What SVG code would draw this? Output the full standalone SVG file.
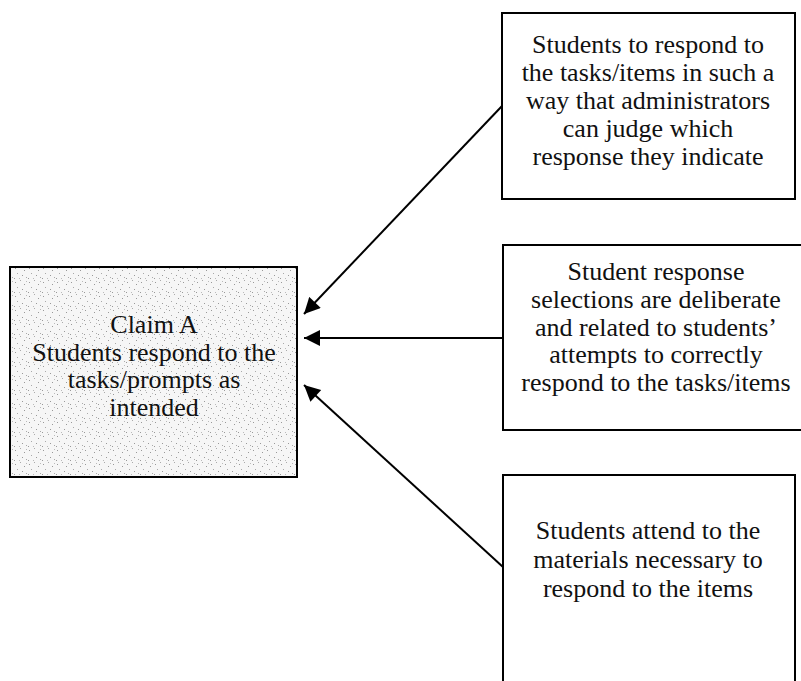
<svg xmlns="http://www.w3.org/2000/svg" width="801" height="681" viewBox="0 0 801 681">
<style>
.box{fill:#fff;stroke:#000;stroke-width:2}
.t{font-family:"Liberation Serif","Times New Roman",serif;font-size:26px;fill:#111;text-anchor:middle}
.c{stroke:#000;stroke-width:2;fill:none;marker-end:url(#ah)}
</style>
<defs>
<marker id="ah" viewBox="0 0 10 10" refX="10" refY="5" markerWidth="9" markerHeight="8" markerUnits="strokeWidth" orient="auto">
<path d="M0,0 L10,5 L0,10 Z" fill="#000"/>
</marker>
<pattern id="stip" width="14" height="14" patternUnits="userSpaceOnUse">
<rect width="14" height="14" fill="#f6f6f6"/>
<rect x="1" y="2" width="1" height="1" fill="#999"/>
<rect x="6" y="0" width="1" height="1" fill="#aaa"/>
<rect x="10" y="4" width="1" height="1" fill="#999"/>
<rect x="3" y="7" width="1" height="1" fill="#aaa"/>
<rect x="8" y="9" width="1" height="1" fill="#999"/>
<rect x="12" y="11" width="1" height="1" fill="#aaa"/>
<rect x="0" y="12" width="1" height="1" fill="#999"/>
<rect x="5" y="12" width="1" height="1" fill="#bbb"/>
<rect x="12" y="1" width="1" height="1" fill="#bbb"/>
</pattern>
</defs>
<g id="connectors">
<line class="c" x1="502" y1="106" x2="304" y2="314"/>
<line class="c" x1="503" y1="338" x2="304" y2="338"/>
<line class="c" x1="503" y1="567" x2="304" y2="385"/>
</g>
<g id="claimA">
<rect x="10" y="267" width="287" height="210" fill="url(#stip)" stroke="#000" stroke-width="2"/>
<text class="t" x="154" y="333">Claim A</text>
<text class="t" x="154" y="361">Students respond to the</text>
<text class="t" x="154" y="388">tasks/prompts as</text>
<text class="t" x="154" y="416">intended</text>
</g>
<g id="node1">
<rect class="box" x="502" y="13" width="293" height="186"/>
<text class="t" x="648" y="53">Students to respond to</text>
<text class="t" x="648" y="81">the tasks/items in such a</text>
<text class="t" x="648" y="109">way that administrators</text>
<text class="t" x="648" y="137">can judge which</text>
<text class="t" x="648" y="165">response they indicate</text>
</g>
<g id="node2">
<rect class="box" x="503" y="245" width="300" height="185"/>
<text class="t" x="656" y="280">Student response</text>
<text class="t" x="656" y="308">selections are deliberate</text>
<text class="t" x="656" y="336">and related to students’</text>
<text class="t" x="656" y="363">attempts to correctly</text>
<text class="t" x="656" y="391">respond to the tasks/items</text>
</g>
<g id="node3">
<rect class="box" x="503" y="475" width="292" height="220"/>
<text class="t" x="648" y="539">Students attend to the</text>
<text class="t" x="648" y="568">materials necessary to</text>
<text class="t" x="648" y="597">respond to the items</text>
</g>
</svg>
